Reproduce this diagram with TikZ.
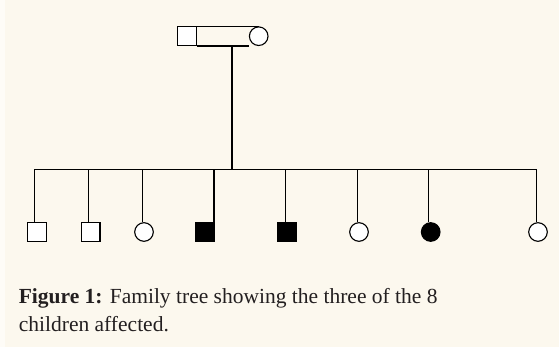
\documentclass[tikz,border=0pt]{standalone}
\usepackage{fontspec}
\setmainfont{Liberation Serif}
\definecolor{bg}{HTML}{FCF8EE}
\definecolor{bgl}{HTML}{FEFCF7}
\definecolor{txt}{HTML}{231F20}
\begin{document}
\begin{tikzpicture}[x=1pt,y=-1pt,
  line width=1.1pt,
  male/.style={draw=black,fill=white,rectangle,minimum size=18.6pt,inner sep=0pt},
  female/.style={draw=black,fill=white,circle,minimum size=18.6pt,inner sep=0pt},
  aff/.style={fill=black}]
\fill[bg] (0,0) rectangle (559,347);
\fill[bgl] (0,0) rectangle (5,347);
\useasboundingbox (0,0) rectangle (559,347);
% parents
\node[male] (f) at (187,36.2) {};
\node[female] (m) at (258.7,36.2) {};
\draw (f.north east) -- (m.north);
\draw (f.south east) -- (m.west |- f.south);
\coordinate (d) at (232,45.5);
\coordinate (b) at (232,169.5);
\draw (d) -- (b);
% bar
\coordinate (s1) at (34.7,169.5);
\coordinate (s2) at (88.7,169.5);
\coordinate (s3) at (142.3,169.5);
\coordinate (s4) at (214,169.5);
\coordinate (s5) at (285.3,169.5);
\coordinate (s6) at (357.3,169.5);
\coordinate (s7) at (428.7,169.5);
\coordinate (s8) at (536.3,169.5);
\draw (s1) -- (s8);
% children
\node[male] (c1) at (37,232) {};
\node[male] (c2) at (90.7,232) {};
\node[female] (c3) at (144,232) {};
\node[male,aff] (c4) at (205,232) {};
\node[male,aff] (c5) at (287.2,232) {};
\node[female] (c6) at (359,232) {};
\node[female,aff] (c7) at (430.7,232) {};
\node[female] (c8) at (538,232) {};
\foreach \i in {1,...,8} {\draw (s\i) -- (s\i |- c\i.north);}
% caption
\node[anchor=base west,inner sep=0pt,text=txt,font=\fontsize{21.5}{28.4}\selectfont,align=left] (cap) at (18.3,331.7)
  {\textbf{Figure 1:} Family tree showing the three of the 8\\children affected.};
\end{tikzpicture}
\end{document}
